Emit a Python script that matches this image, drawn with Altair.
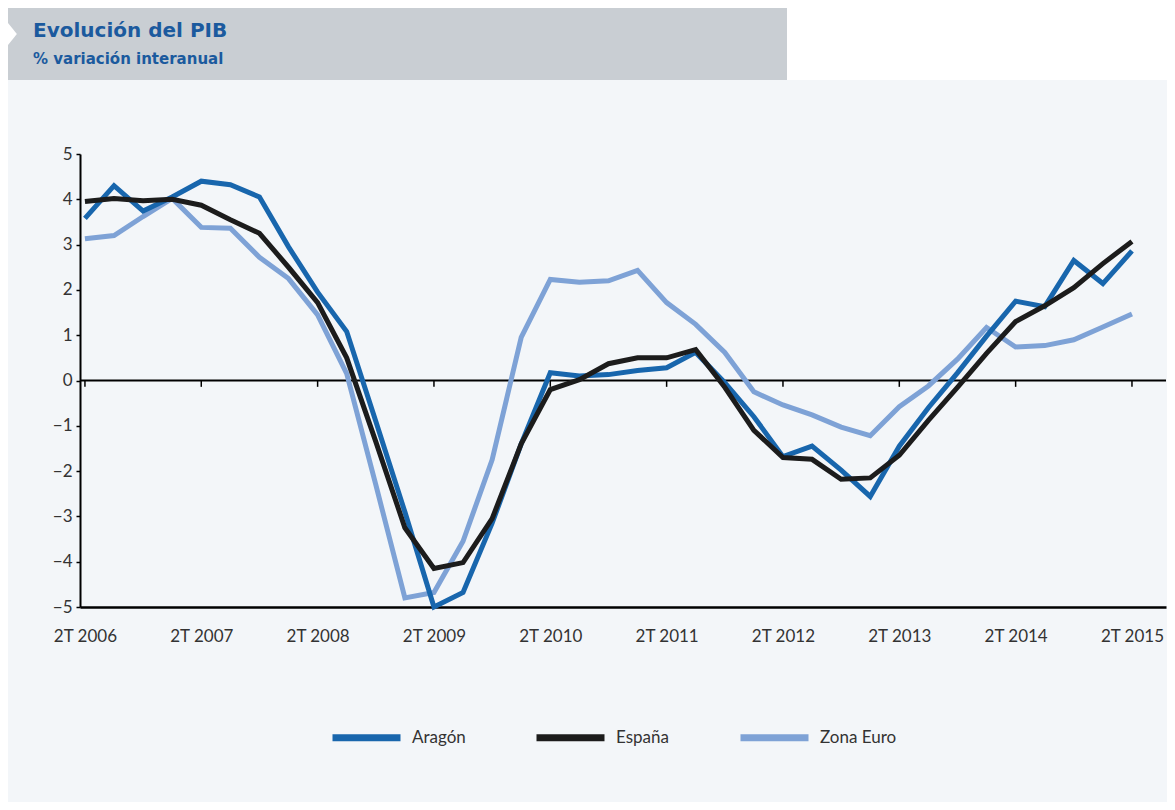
import json
import altair as alt
import pandas as pd

# ---------------- data ----------------
quarter_index = list(range(37))  # 2T 2006 ... 2T 2015

aragon = [3.58, 4.30, 3.74, 4.05, 4.40, 4.32, 4.05, 2.95, 1.95, 1.08,
          -0.90, -2.90, -5.00, -4.68, -3.15, -1.40, 0.17, 0.10, 0.13, 0.22,
          0.28, 0.62, -0.05, -0.80, -1.68, -1.45, -1.98, -2.56, -1.45, -0.60,
          0.17, 0.98, 1.75, 1.63, 2.65, 2.14, 2.86]
espana = [3.95, 4.02, 3.97, 4.00, 3.87, 3.55, 3.25, 2.50, 1.72, 0.50,
          -1.35, -3.25, -4.15, -4.02, -3.05, -1.40, -0.20, 0.02, 0.37, 0.50,
          0.50, 0.68, -0.15, -1.10, -1.70, -1.74, -2.18, -2.15, -1.65, -0.88,
          -0.15, 0.60, 1.30, 1.65, 2.05, 2.58, 3.07]
zona_euro = [3.13, 3.20, 3.62, 4.02, 3.38, 3.36, 2.72, 2.25, 1.45, 0.15,
             -2.30, -4.80, -4.68, -3.55, -1.75, 0.95, 2.23, 2.17, 2.20, 2.43,
             1.72, 1.24, 0.62, -0.25, -0.54, -0.76, -1.03, -1.22, -0.58, -0.12,
             0.47, 1.17, 0.74, 0.77, 0.90, 1.18, 1.47]

series_names = ["Aragón", "España", "Zona Euro"]
series_colors = ["#1866ad", "#1c1c1c", "#7ea2d6"]

tick_positions = [0, 4, 8, 12, 16, 20, 24, 28, 32, 36]
tick_labels = ["2T 2006", "2T 2007", "2T 2008", "2T 2009", "2T 2010",
               "2T 2011", "2T 2012", "2T 2013", "2T 2014", "2T 2015"]
y_ticks = [5, 4, 3, 2, 1, 0, -1, -2, -3, -4, -5]

title_text = "Evolución del PIB"
subtitle_text = "% variación interanual"

# ---------------- tables ----------------
rows = []
# drawing order: Zona Euro below, then Aragón, then España on top
for name, vals in [("Zona Euro", zona_euro), ("Aragón", aragon), ("España", espana)]:
    for q, v in zip(quarter_index, vals):
        rows.append({"q": q, "serie": name, "valor": v})
df = pd.DataFrame(rows)
ticks_df = pd.DataFrame({"q": tick_positions})
one = pd.DataFrame({"k": [0]})

FONT = "Lato"
TITLE_FONT = "DejaVu Sans"
TITLE_COLOR = "#1b5a9e"
W, H = 1086, 453

xscale = alt.Scale(domain=[-0.17, 37.17], nice=False, zero=False)
yscale = alt.Scale(domain=[-5, 5], nice=False, zero=False)

label_expr = json.dumps(tick_labels) + "[round(datum.value / 4)]"

# ---------------- decorations ----------------
white_top = alt.Chart(one).mark_rect(color="white").encode(
    x=alt.value(707), x2=alt.value(1090), y=alt.value(-150), y2=alt.value(-74))
banner = alt.Chart(one).mark_rect(color="#c9ced3").encode(
    x=alt.value(-72), x2=alt.value(707), y=alt.value(-146), y2=alt.value(-74))
arrow = alt.Chart(one).mark_point(
    shape="M-0.4,-1L0.4,0L-0.4,1Z", filled=True, color="white", opacity=1, size=600
).encode(x=alt.value(-68), y=alt.value(-120))
title = alt.Chart(one).mark_text(
    text=title_text, font=TITLE_FONT, fontSize=20, fontWeight="bold", color=TITLE_COLOR,
    align="left", baseline="alphabetic"
).encode(x=alt.value(-47), y=alt.value(-117))
subtitle = alt.Chart(one).mark_text(
    text=subtitle_text, font=TITLE_FONT, fontSize=15, fontWeight="bold", color=TITLE_COLOR,
    align="left", baseline="alphabetic"
).encode(x=alt.value(-47), y=alt.value(-90))

# ---------------- chart ----------------
zero_line = alt.Chart(one).mark_rule(color="black", strokeWidth=2).encode(
    y=alt.Y("k:Q", scale=yscale))
zero_ticks = alt.Chart(ticks_df).mark_rule(color="black", strokeWidth=1.5).encode(
    x=alt.X("q:Q", scale=xscale), y=alt.datum(0), y2=alt.datum(-0.14))

lines = alt.Chart(df).mark_line(strokeWidth=5, strokeJoin="miter").encode(
    x=alt.X("q:Q", scale=xscale,
            axis=alt.Axis(values=tick_positions, labelExpr=label_expr, ticks=False,
                          grid=False, domainColor="black", domainWidth=2.5,
                          labelFont=FONT, labelFontSize=17, labelColor="#333333",
                          labelPadding=21, labelFlush=False, labelOverlap=False,
                          title=None)),
    y=alt.Y("valor:Q", scale=yscale,
            axis=alt.Axis(values=y_ticks, grid=False, domainColor="black",
                          domainWidth=2, tickColor="black", tickSize=4, tickWidth=1.5,
                          labelFont=FONT, labelFontSize=17, labelColor="#333333",
                          labelPadding=4, title=None)),
    color=alt.Color("serie:N",
                    scale=alt.Scale(domain=series_names, range=series_colors),
                    legend=alt.Legend(orient="none", legendX=249, legendY=546,
                                      direction="horizontal", title=None,
                                      symbolType="stroke", symbolSize=4624,
                                      symbolStrokeWidth=7, labelFont=FONT,
                                      labelFontSize=17, labelColor="#333333",
                                      labelOffset=8, columnPadding=33,
                                      gridAlign="all")),
    detail="serie:N",
)

chart = alt.layer(
    white_top, banner, arrow, title, subtitle, zero_line, zero_ticks, lines
).properties(
    width=W, height=H,
    padding={"left": 72, "top": 146, "right": 1, "bottom": 195},
    autosize=alt.AutoSizeParams(type="none"),
    background="#f3f6f9",
).configure_view(strokeWidth=0).configure_axis(zindex=1)

chart.save("out.html", embed_options={"renderer": "svg", "actions": False})
